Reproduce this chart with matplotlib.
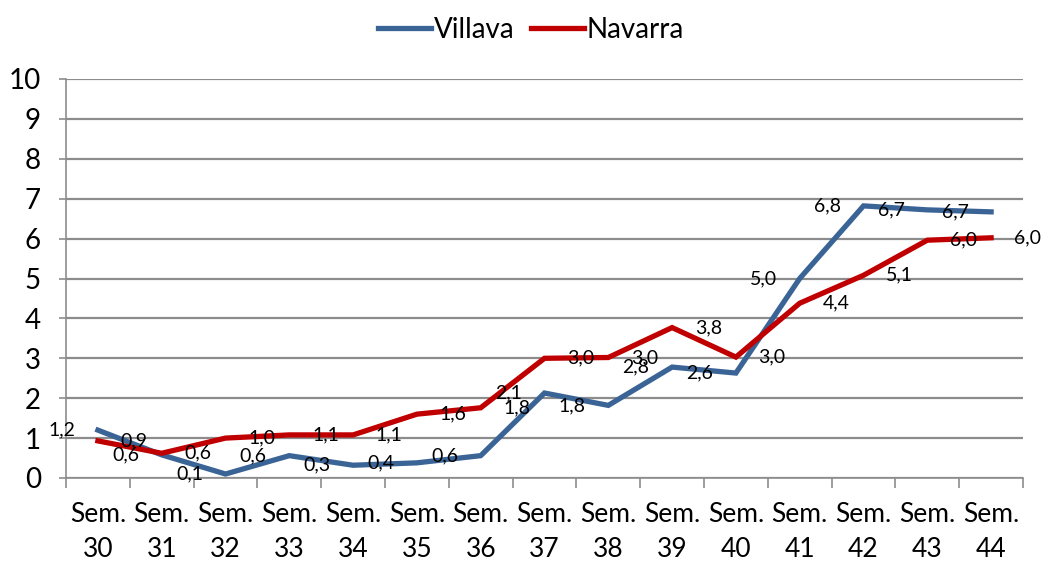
import numpy as np
import matplotlib
matplotlib.use("Agg")
import matplotlib.pyplot as plt

plt.rcParams['font.family'] = ['Lato', 'DejaVu Sans']

semanas = ['30', '31', '32', '33', '34', '35', '36', '37', '38', '39', '40', '41', '42', '43', '44']
villava = [1.2, 0.58, 0.1, 0.56, 0.32, 0.38, 0.56, 2.13, 1.82, 2.78, 2.63, 5.0, 6.82, 6.72, 6.67]
navarra = [0.93, 0.62, 1.0, 1.08, 1.08, 1.6, 1.76, 3.0, 3.02, 3.77, 3.03, 4.38, 5.08, 5.96, 6.02]

azul = '#3B6496'
rojo = '#C00000'
gris = '#8C8C8C'

fig = plt.figure(figsize=(10.41, 5.65), dpi=100)
ax = fig.add_axes([66/1041, 1 - 478/565, (1023 - 66)/1041, (478 - 79)/565])

x = np.arange(len(semanas))
ax.plot(x, villava, color=azul, lw=3.8, label='Villava', solid_joinstyle='miter', zorder=3)
ax.plot(x, navarra, color=rojo, lw=3.8, label='Navarra', solid_joinstyle='miter', zorder=3)

def fmt(v):
    return f'{v:.1f}'.replace('.', ',')

for i, v in enumerate(villava):
    ax.annotate(fmt(v), (i, v), xytext=(-26, 0), textcoords='offset points',
                ha='center', va='center', fontsize=14, zorder=4)
for i, v in enumerate(navarra):
    ax.annotate(fmt(v), (i, v), xytext=(26, 0), textcoords='offset points',
                ha='center', va='center', fontsize=14, zorder=4)

ax.set_xlim(-0.5, len(semanas) - 0.5)
ax.set_ylim(0, 10)
ax.set_yticks(range(0, 11))
ax.tick_params(axis='y', labelsize=20, length=5, color=gris, width=1.2, pad=13)
ax.yaxis.grid(True, color=gris, lw=1.6)
ax.set_axisbelow(True)

ax.set_xticks(np.arange(-0.5, len(semanas)), labels=[])
ax.set_xticks(x, labels=['Sem.\n' + s for s in semanas], minor=True)
ax.tick_params(axis='x', which='major', length=7, color=gris, width=1.2)
ax.tick_params(axis='x', which='minor', length=0, labelsize=19, pad=17)
for lab in ax.get_xticklabels(minor=True):
    lab.set_linespacing(1.5)

for s in ['top', 'right']:
    ax.spines[s].set_visible(False)
for s in ['left', 'bottom']:
    ax.spines[s].set_color(gris)
    ax.spines[s].set_linewidth(1.2)

fig.legend(loc='upper center', bbox_to_anchor=(0.51, 1.015), ncol=2, frameon=False,
           fontsize=20, handlelength=1.9, handletextpad=0.1, columnspacing=0.6)

fig.savefig('out.png', dpi=100)
